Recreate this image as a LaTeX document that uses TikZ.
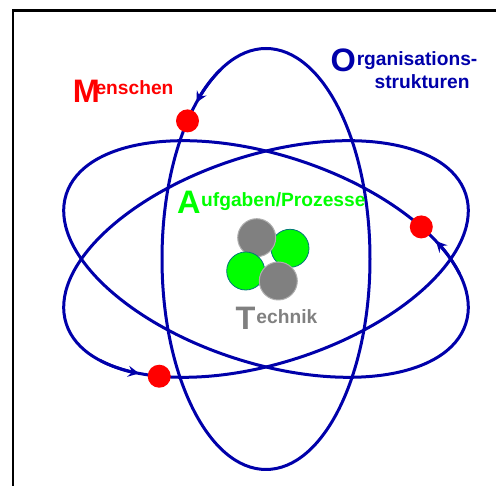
\documentclass[tikz,border=0pt]{standalone}
\usepackage{fontspec}
\setmainfont{Liberation Sans}
\usetikzlibrary{arrows.meta}
\definecolor{orbit}{RGB}{0,0,170}
\definecolor{grn}{RGB}{0,255,0}
\definecolor{grnedge}{RGB}{0,120,120}
\definecolor{gry}{RGB}{128,128,128}
\definecolor{gryedge}{RGB}{175,175,175}
\newcommand{\bigL}[1]{{\fontsize{32.5}{32.5}\selectfont #1}}
\newcommand{\smallL}[2]{\raisebox{#1}{\fontsize{19.2}{19.2}\selectfont #2}}
\begin{document}
\begin{tikzpicture}[x=1pt,y=1pt,
  orbitline/.style={draw=orbit, line width=3pt},
  electron/.style={circle, fill=red, minimum size=23pt, inner sep=0pt},
  label/.style={anchor=base west, inner sep=0pt, font=\bfseries},
  smalltext/.style={anchor=base west, inner sep=0pt, font=\bfseries\fontsize{19.2}{19.2}\selectfont},
  greenball/.style={circle, fill=grn, draw=grnedge, line width=0.8pt, minimum size=38pt, inner sep=0pt},
  grayball/.style={circle, fill=gry, draw=gryedge, line width=1pt, minimum size=38pt, inner sep=0pt},
  spin/.style={-{Stealth[length=11pt,width=11pt,inset=4pt]}, draw=orbit, line width=3pt}
]
\useasboundingbox (0,0) rectangle (496,486);
\coordinate (fa) at (13,0);
\coordinate (fb) at (13,475.3);
\coordinate (fc) at (496,475.3);
\draw[line width=2.5pt] (fa) -- (fb) -- (fc);

\coordinate (c) at (266,227);
% vertical orbit
\begin{scope}[shift={(c)}, rotate=90]
  \draw[orbitline] (0,0) ellipse (210.5 and 104);
  \draw[spin] (26:210.5 and 104) arc[start angle=26, end angle=42, x radius=210.5, y radius=104];
  \node[electron] (e1) at (49:210.5 and 104) {};
\end{scope}
% tilted orbit 1
\begin{scope}[shift={(c)}, rotate=-18]
  \draw[orbitline] (0,0) ellipse (210 and 104);
  \draw[spin] (26:210 and 104) arc[start angle=26, end angle=42, x radius=210, y radius=104];
  \node[electron] (e2) at (49:210 and 104) {};
\end{scope}
% tilted orbit 2
\begin{scope}[shift={(c)}, rotate=18]
  \draw[orbitline] (0,0) ellipse (210 and 104);
  \draw[spin] (206:210 and 104) arc[start angle=206, end angle=222, x radius=210, y radius=104];
  \node[electron] (e3) at (229:210 and 104) {};
\end{scope}

% nucleus
\node[greenball] (g1) at (290,237.7) {};
\node[grayball]  (t1) at (256.7,248.3) {};
\node[greenball] (g2) at (245.7,215) {};
\node[grayball]  (t2) at (278.3,205) {};

% labels
\node[label, text=red] (mensch) at (72.7,383.7) {\bigL{M}\kern-4.4pt\smallL{7.3pt}{enschen}};
\node[label, text=orbit, text depth=0pt] (orga) at (330.3,414) {\bigL{O}\kern1pt\smallL{6pt}{rganisations-}};
\node[smalltext, text=orbit] (orgb) at (374.4,397) {strukturen};
\node[label, text=grn] (aufg) at (177,272.7) {\bigL{A}\kern0.5pt\smallL{6.3pt}{ufgaben/Prozesse}};
\node[label, text=gry] (tech) at (235.3,156.7) {\bigL{T}\kern1.1pt\smallL{5.3pt}{echnik}};
\end{tikzpicture}
\end{document}
